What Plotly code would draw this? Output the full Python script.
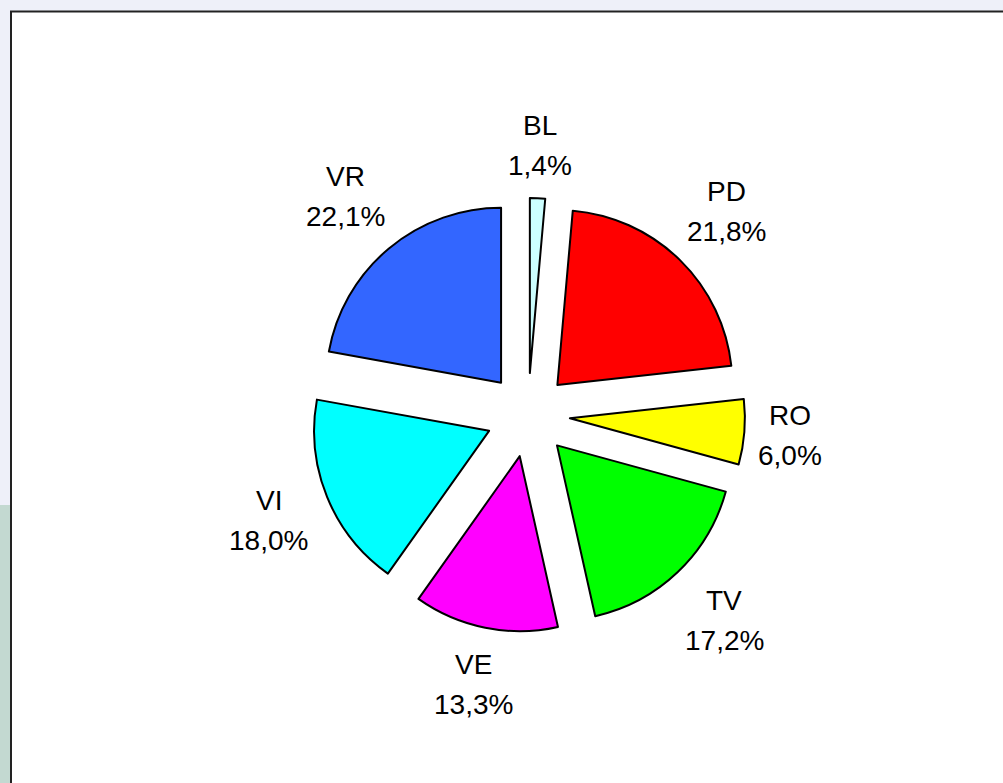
import math
import plotly.graph_objects as go

labels = ["BL", "PD", "RO", "TV", "VE", "VI", "VR"]
values = [1.4, 21.8, 6.0, 17.2, 13.3, 18.0, 22.1]
colors = ["#ccffff", "#ff0000", "#ffff00", "#00ff00", "#ff00ff", "#00ffff", "#3366ff"]

W, H = 1003, 783
cx, cy = 528, 415          # pie centre in page pixels (from top)
half = 217                 # half size of pie domain in pixels
pull = 0.24
FONT = "Liberation Sans, Arial"
FS = 28

fig = go.Figure(go.Pie(
    labels=labels,
    values=values,
    sort=False,
    direction="clockwise",
    rotation=0,
    pull=[pull] * len(values),
    marker=dict(colors=colors, line=dict(color="black", width=2)),
    textinfo="none",
    hoverinfo="label+value",
    showlegend=False,
    domain=dict(x=[(cx - half) / W, (cx + half) / W],
                y=[1 - (cy + half) / H, 1 - (cy - half) / H]),
))

# Excel-style labels placed along each slice's bisector
r = half / (1 + pull)
total = sum(values)
annotations = []
cum = 0.0
for lab, v in zip(labels, values):
    th = 2 * math.pi * (cum + v / 2) / total
    cum += v
    s, c = math.sin(th), math.cos(th)
    pct = f"{v:.1f}".replace(".", ",") + "%"
    ndig = sum(ch.isdigit() for ch in pct)
    hw = 0.5 * FS * (0.556 * ndig + 0.278 + 0.889)
    hh = 40
    D = pull * r + 186 + hw * abs(s) + hh * abs(c)
    lx = cx + D * s
    ly = (H - cy) + D * c
    for txt, shift in ((lab, 20), (pct, -20)):
        annotations.append(dict(
            x=lx / W, y=ly / H, xref="paper", yref="paper",
            text=txt, showarrow=False, xanchor="center", yanchor="middle",
            yshift=shift, font=dict(family=FONT, size=FS, color="black"),
        ))

fig.update_layout(
    width=W, height=H,
    margin=dict(l=0, r=0, t=0, b=0),
    paper_bgcolor="#eef0f9",
    annotations=annotations,
    shapes=[
        dict(type="rect", xref="paper", yref="paper", x0=0, x1=12 / W, y0=0, y1=1 - 505 / H,
             fillcolor="#c3d9d1", line=dict(width=0), layer="below"),
        dict(type="rect", xref="paper", yref="paper", x0=11 / W, x1=1.01, y0=-0.01, y1=1 - 11.5 / H,
             fillcolor="white", line=dict(color="#222222", width=2), layer="below"),
    ],
)

fig.write_html("out.html", config={"displayModeBar": False},
               post_script="document.body.style.margin='0';document.body.style.overflow='hidden';")
